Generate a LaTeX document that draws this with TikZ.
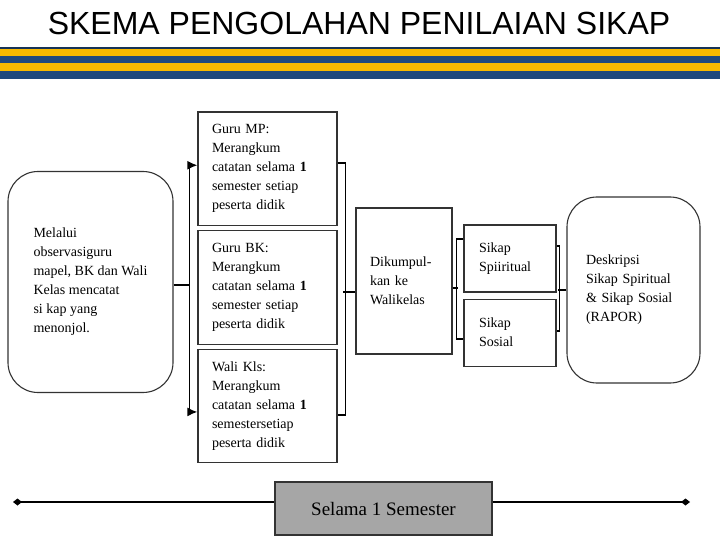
\documentclass[tikz,border=0pt]{standalone}
\usepackage{fontspec}
\setmainfont{Liberation Serif}
\newfontfamily\headfont{Liberation Sans}
\usetikzlibrary{arrows.meta,positioning}
\definecolor{stripeyellow}{HTML}{F7B900}
\definecolor{stripeblue}{HTML}{1F497D}
\definecolor{semgray}{HTML}{A6A6A6}

\begin{document}
\begin{tikzpicture}[x=1pt,y=-1pt,>={Latex[length=10pt,width=9pt]},
  box/.style={draw=black!80,line width=1.1pt,align=left,inner ysep=0pt,font=\fontsize{14}{19}\selectfont},
  round box/.style={box,rounded corners=30pt},
  mid box/.style={box,text width=111pt,inner xsep=14pt,minimum height=113.5pt},
  sikap box/.style={box,text width=62pt,inner xsep=15pt,minimum height=67pt},
  link/.style={draw,line width=1.7pt}]
  \useasboundingbox (0,0) rectangle (720,540);

  % title and stripes
  \node[font=\headfont\fontsize{32}{36}\selectfont] (title) at (359,23) {SKEMA PENGOLAHAN PENILAIAN SIKAP};
  \fill[stripeblue!70!black] (0,47) rectangle (720,48.6);
  \fill[stripeyellow] (0,48.6) rectangle (720,56);
  \fill[stripeblue] (0,56) rectangle (720,63.2);
  \fill[stripeyellow] (0,63.2) rectangle (720,70.6);
  \fill[stripeblue] (0,70.6) rectangle (720,79.3);

  \node[round box,minimum width=165pt,minimum height=221pt] (obs) at (90.5,282)
    {Melalui\\observasiguru\\mapel, BK dan Wali\\Kelas mencatat\\si kap yang\\menonjol.};

  \node[mid box] (mp) at (267.5,168.75) {Guru MP:\\Merangkum\\catatan selama \textbf{1}\\semester setiap\\peserta didik};
  \node[mid box] (bk) [below=4pt of mp] {Guru BK:\\Merangkum\\catatan selama \textbf{1}\\semester setiap\\peserta didik};
  \node[mid box] (wk) [below=4pt of bk] {Wali Kls:\\Merangkum\\catatan selama \textbf{1}\\semestersetiap\\peserta didik};

  \node[box,text width=68pt,inner xsep=14pt,minimum height=146pt] (kum) at (404,281) {Dikumpul-\\kan ke\\Walikelas};

  \node[sikap box] (spi) at (510,258.5) {Sikap\\Spiiritual};
  \node[sikap box] (sos) [below=6pt of spi] {Sikap\\Sosial};

  \node[round box,text width=95pt,inner xsep=19pt,minimum height=186pt] (rap) at (633.5,290)
    {Deskripsi\\Sikap Spiritual\\\& Sikap Sosial\\(RAPOR)};

  \node[box,fill=semgray,minimum width=217pt,minimum height=53pt,align=center,font=\fontsize{19}{22}\selectfont] (sem) at (383.5,508.5) {Selama 1 Semester};
  \coordinate (lend) at (13,502);
  \coordinate (rend) at (690,502);

  % connectors
  \draw[link,->] ([yshift=-3pt]obs.east) -- ++(16,0) coordinate (fork) |- ([yshift=3.5pt]mp.west);
  \draw[link,->] (fork) |- ([yshift=-6pt]wk.west);

  \draw[link] ([yshift=5.75pt]mp.east) -- ++(8,0) |- ([yshift=-9.25pt]wk.east);
  \draw[link] ([yshift=-11pt]kum.west) -- ++(-12,0);

  \draw[link] ([yshift=-7pt]kum.east) -- ++(5,0);
  \draw[link] ([yshift=19.5pt]spi.west) -- ++(-7,0) |- ([yshift=-6.5pt]sos.west);

  \draw[link] ([yshift=12.5pt]spi.east) -- ++(3,0) |- ([yshift=1.5pt]sos.east);
  \draw[link] (rap.west) -- ++(-8,0);

  \draw[line width=1.6pt,{Diamond[length=9pt,width=7pt]}-] (lend) -- (lend -| sem.west);
  \draw[line width=1.6pt,-{Diamond[length=9pt,width=7pt]}] (rend -| sem.east) -- (rend);
\end{tikzpicture}
\end{document}
